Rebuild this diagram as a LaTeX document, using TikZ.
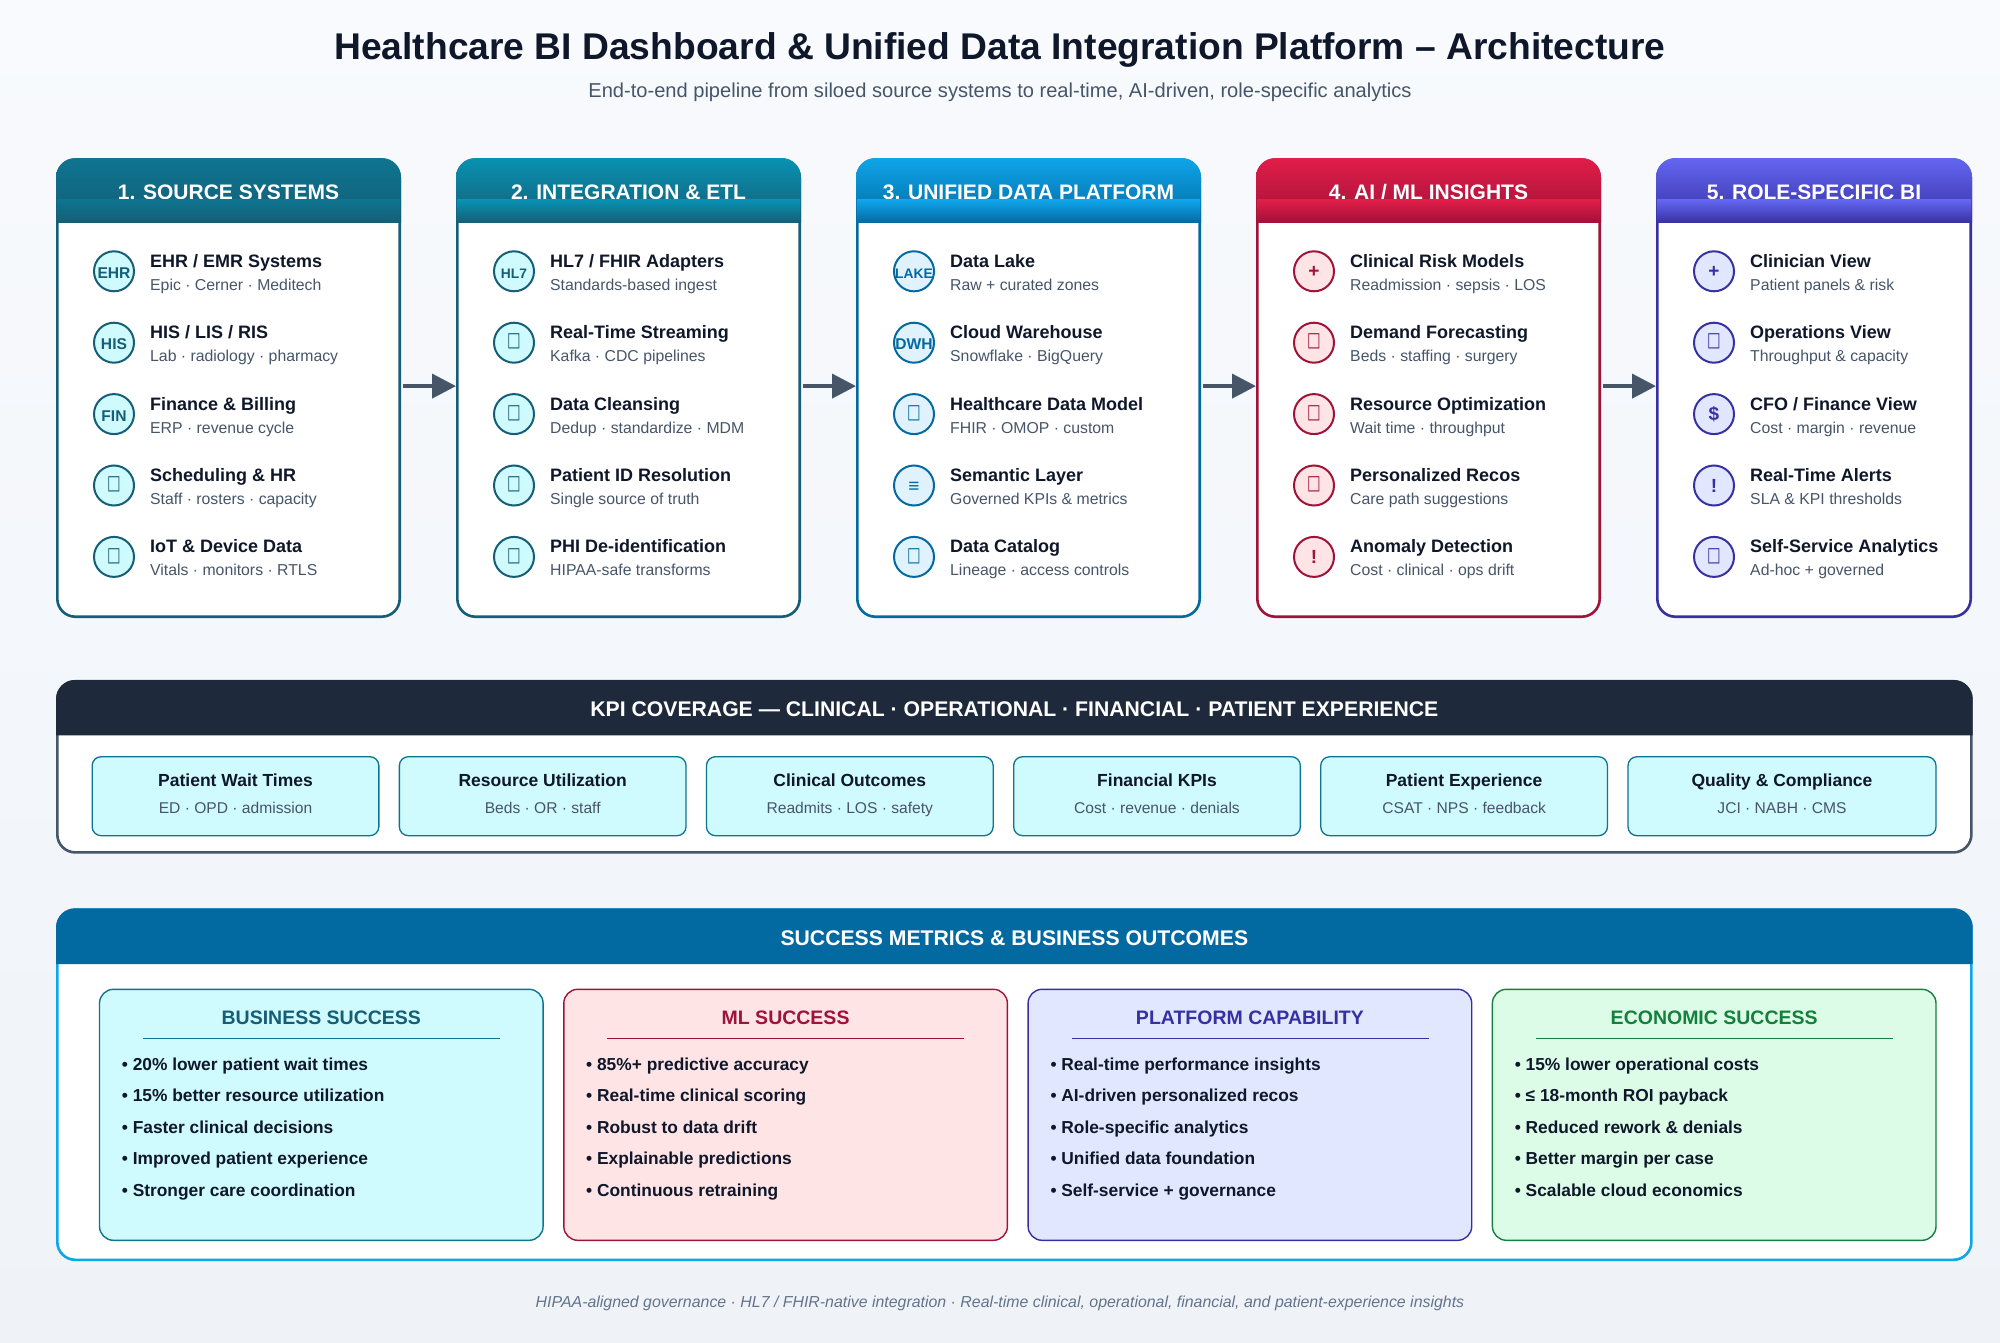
\documentclass[tikz,border=0pt]{standalone}
\usepackage{fontspec}
\setmainfont{Liberation Sans}
\newfontfamily\symfont[FakeStretch=0.72]{DejaVu Sans}
\usepackage{tikz}
\usetikzlibrary{arrows.meta,positioning}

\definecolor{ink}{HTML}{0F172A}
\definecolor{slate}{HTML}{475569}
\definecolor{footgray}{HTML}{64748B}
\definecolor{navy}{HTML}{1E293B}
\definecolor{cyandark}{HTML}{155E75}
\definecolor{cyanmid}{HTML}{0E7490}
\definecolor{cyantop}{HTML}{0891B2}
\definecolor{cyanpale}{HTML}{CFFAFE}
\definecolor{skytop}{HTML}{0EA5E9}
\definecolor{skydark}{HTML}{0369A1}
\definecolor{skypale}{HTML}{E0F2FE}
\definecolor{rosetop}{HTML}{E11D48}
\definecolor{rosedark}{HTML}{9F1239}
\definecolor{rosepale}{HTML}{FFE4E6}
\definecolor{indigotop}{HTML}{6366F1}
\definecolor{indigodark}{HTML}{3730A3}
\definecolor{indigopale}{HTML}{E0E7FF}
\definecolor{greendark}{HTML}{15803D}
\definecolor{greenpale}{HTML}{DCFCE7}
\definecolor{pagetop}{HTML}{F8FAFD}
\definecolor{pagebot}{HTML}{EFF3F8}

\newcommand{\px}[1]{\fontsize{#1}{#1}\selectfont}

\tikzset{
  panelbox/.style={draw=#1,line width=2.6pt,fill=white,rounded corners=18pt,inner sep=0pt},
  headtext/.style={anchor=base,text=white,font=\px{21}\bfseries,inner sep=0pt},
  bandtext/.style={anchor=base,text=white,font=\px{21.2}\bfseries,inner sep=0pt},
  icon/.style 2 args={circle,draw=#1,fill=#2,text=#1,line width=2pt,minimum size=40pt,inner sep=0pt,text height=14pt,text depth=0pt,font=\px{15.6}\bfseries},
  iconsmall/.style={font=\px{13.8}\bfseries},
  iconbig/.style={font=\px{19}\bfseries,text height=13pt},
  icontofu/.style={font=\symfont\px{20},text height=8.2pt},
  itemtitle/.style={anchor=base west,text=ink,font=\px{18}\bfseries,inner sep=0pt},
  itemsub/.style={anchor=base west,text=slate,font=\px{15.8},inner sep=0pt},
  flowarrow/.style={draw=slate,line width=4pt,-{Triangle[length=24pt,width=24pt]},shorten <=2pt},
  kpibox/.style={draw=cyanmid,fill=cyanpale,line width=1.3pt,rounded corners=9pt,minimum height=79pt,inner sep=0pt},
  kpititle/.style={anchor=base,text=ink,font=\px{17.5}\bfseries,inner sep=0pt},
  kpisub/.style={anchor=base,text=slate,font=\px{15.6},inner sep=0pt},
  succbox/.style 2 args={draw=#1,fill=#2,line width=1.4pt,rounded corners=14pt,minimum width=443.6pt,minimum height=251pt,inner sep=0pt},
  succtitle/.style={anchor=base,text=#1,font=\px{19.5}\bfseries,inner sep=0pt},
  succitem/.style={anchor=base west,text=ink,font=\px{17.35}\bfseries,inner sep=0pt},
}

\begin{document}
\begin{tikzpicture}[x=1pt,y=-1pt]
  \useasboundingbox (0,0) rectangle (2000,1343);
  \path[top color=pagetop,bottom color=pagebot] (0,0) rectangle (2000,1343);

  \node[anchor=base,text=ink,font=\px{37.2}\bfseries,inner sep=0pt] (title) at (1000,60) {Healthcare BI Dashboard \& Unified Data Integration Platform – Architecture};
  \node[anchor=base,text=slate,font=\px{20.1},inner sep=0pt] (subtitle) at (1000,97.5) {End-to-end pipeline from siloed source systems to real-time, AI-driven, role-specific analytics};

  % five columns
  \node[panelbox=cyandark,minimum width=342.4pt,minimum height=457.2pt] (p1) at (228.5,388.1) {};
  \node[panelbox=cyandark,minimum width=342.4pt,minimum height=457.2pt] (p2) at (628.5,388.1) {};
  \node[panelbox=skydark,minimum width=342.4pt,minimum height=457.2pt] (p3) at (1028.5,388.1) {};
  \node[panelbox=rosedark,minimum width=342.4pt,minimum height=457.2pt] (p4) at (1428.5,388.1) {};
  \node[panelbox=indigodark,minimum width=313.4pt,minimum height=457.2pt] (p5) at (1814,388.1) {};

  \path[top color=cyanmid,bottom color=cyandark] (56,223) -- (56,177.2) arc[start angle=180,end angle=90,radius=19pt] -- (382,158.2) arc[start angle=90,end angle=0,radius=19pt] -- (401,223) -- cycle;
  \path[top color=cyantop,bottom color=cyandark] (456,223) -- (456,177.2) arc[start angle=180,end angle=90,radius=19pt] -- (782,158.2) arc[start angle=90,end angle=0,radius=19pt] -- (801,223) -- cycle;
  \path[top color=skytop,bottom color=skydark] (856,223) -- (856,177.2) arc[start angle=180,end angle=90,radius=19pt] -- (1182,158.2) arc[start angle=90,end angle=0,radius=19pt] -- (1201,223) -- cycle;
  \path[top color=rosetop,bottom color=rosedark] (1256,223) -- (1256,177.2) arc[start angle=180,end angle=90,radius=19pt] -- (1582,158.2) arc[start angle=90,end angle=0,radius=19pt] -- (1601,223) -- cycle;
  \path[top color=indigotop,bottom color=indigodark] (1656,223) -- (1656,177.2) arc[start angle=180,end angle=90,radius=19pt] -- (1953,158.2) arc[start angle=90,end angle=0,radius=19pt] -- (1972,223) -- cycle;

  \node[headtext] (h1) at (228.5,199.9) {1. SOURCE SYSTEMS};
  \node[headtext] (h2) at (628.5,199.9) {2. INTEGRATION \& ETL};
  \node[headtext] (h3) at (1028.5,199.9) {3. UNIFIED DATA PLATFORM};
  \node[headtext] (h4) at (1428.5,199.9) {4. AI / ML INSIGHTS};
  \node[headtext] (h5) at (1814,199.9) {5. ROLE-SPECIFIC BI};

  \path[top color=cyanmid,bottom color=cyandark] (57,200) rectangle (400,223);
  \path[top color=cyantop,bottom color=cyandark] (457,200) rectangle (800,223);
  \path[top color=skytop,bottom color=skydark] (857,200) rectangle (1200,223);
  \path[top color=rosetop,bottom color=rosedark] (1257,200) rectangle (1600,223);
  \path[top color=indigotop,bottom color=indigodark] (1657,200) rectangle (1971,223);

  % column 1
  \node[icon={cyandark}{cyanpale}] (a1) at (114,271.3) {EHR};
  \node[itemtitle] (a1t) at (150,267.3) {EHR / EMR Systems};
  \node[itemsub] (a1s) at (150,290.3) {Epic · Cerner · Meditech};
  \node[icon={cyandark}{cyanpale}] (a2) at (114,342.7) {HIS};
  \node[itemtitle] (a2t) at (150,338.7) {HIS / LIS / RIS};
  \node[itemsub] (a2s) at (150,361.7) {Lab · radiology · pharmacy};
  \node[icon={cyandark}{cyanpale}] (a3) at (114,414.1) {FIN};
  \node[itemtitle] (a3t) at (150,410.1) {Finance \& Billing};
  \node[itemsub] (a3s) at (150,433.1) {ERP · revenue cycle};
  \node[icon={cyandark}{cyanpale},icontofu] (a4) at (114,485.5) {□};
  \node[itemtitle] (a4t) at (150,481.5) {Scheduling \& HR};
  \node[itemsub] (a4s) at (150,504.5) {Staff · rosters · capacity};
  \node[icon={cyandark}{cyanpale},icontofu] (a5) at (114,556.9) {□};
  \node[itemtitle] (a5t) at (150,552.9) {IoT \& Device Data};
  \node[itemsub] (a5s) at (150,575.9) {Vitals · monitors · RTLS};

  % column 2
  \node[icon={cyandark}{cyanpale},iconsmall] (b1) at (514,271.3) {HL7};
  \node[itemtitle] (b1t) at (550,267.3) {HL7 / FHIR Adapters};
  \node[itemsub] (b1s) at (550,290.3) {Standards-based ingest};
  \node[icon={cyandark}{cyanpale},icontofu] (b2) at (514,342.7) {□};
  \node[itemtitle] (b2t) at (550,338.7) {Real-Time Streaming};
  \node[itemsub] (b2s) at (550,361.7) {Kafka · CDC pipelines};
  \node[icon={cyandark}{cyanpale},icontofu] (b3) at (514,414.1) {□};
  \node[itemtitle] (b3t) at (550,410.1) {Data Cleansing};
  \node[itemsub] (b3s) at (550,433.1) {Dedup · standardize · MDM};
  \node[icon={cyandark}{cyanpale},icontofu] (b4) at (514,485.5) {□};
  \node[itemtitle] (b4t) at (550,481.5) {Patient ID Resolution};
  \node[itemsub] (b4s) at (550,504.5) {Single source of truth};
  \node[icon={cyandark}{cyanpale},icontofu] (b5) at (514,556.9) {□};
  \node[itemtitle] (b5t) at (550,552.9) {PHI De-identification};
  \node[itemsub] (b5s) at (550,575.9) {HIPAA-safe transforms};

  % column 3
  \node[icon={skydark}{skypale},iconsmall] (c1) at (914,271.3) {LAKE};
  \node[itemtitle] (c1t) at (950,267.3) {Data Lake};
  \node[itemsub] (c1s) at (950,290.3) {Raw + curated zones};
  \node[icon={skydark}{skypale}] (c2) at (914,342.7) {DWH};
  \node[itemtitle] (c2t) at (950,338.7) {Cloud Warehouse};
  \node[itemsub] (c2s) at (950,361.7) {Snowflake · BigQuery};
  \node[icon={skydark}{skypale},icontofu] (c3) at (914,414.1) {□};
  \node[itemtitle] (c3t) at (950,410.1) {Healthcare Data Model};
  \node[itemsub] (c3s) at (950,433.1) {FHIR · OMOP · custom};
  \node[icon={skydark}{skypale},iconbig] (c4) at (914,485.5) {≡};
  \node[itemtitle] (c4t) at (950,481.5) {Semantic Layer};
  \node[itemsub] (c4s) at (950,504.5) {Governed KPIs \& metrics};
  \node[icon={skydark}{skypale},icontofu] (c5) at (914,556.9) {□};
  \node[itemtitle] (c5t) at (950,552.9) {Data Catalog};
  \node[itemsub] (c5s) at (950,575.9) {Lineage · access controls};

  % column 4
  \node[icon={rosedark}{rosepale},iconbig] (d1) at (1314,271.3) {+};
  \node[itemtitle] (d1t) at (1350,267.3) {Clinical Risk Models};
  \node[itemsub] (d1s) at (1350,290.3) {Readmission · sepsis · LOS};
  \node[icon={rosedark}{rosepale},icontofu] (d2) at (1314,342.7) {□};
  \node[itemtitle] (d2t) at (1350,338.7) {Demand Forecasting};
  \node[itemsub] (d2s) at (1350,361.7) {Beds · staffing · surgery};
  \node[icon={rosedark}{rosepale},icontofu] (d3) at (1314,414.1) {□};
  \node[itemtitle] (d3t) at (1350,410.1) {Resource Optimization};
  \node[itemsub] (d3s) at (1350,433.1) {Wait time · throughput};
  \node[icon={rosedark}{rosepale},icontofu] (d4) at (1314,485.5) {□};
  \node[itemtitle] (d4t) at (1350,481.5) {Personalized Recos};
  \node[itemsub] (d4s) at (1350,504.5) {Care path suggestions};
  \node[icon={rosedark}{rosepale},iconbig] (d5) at (1314,556.9) {!};
  \node[itemtitle] (d5t) at (1350,552.9) {Anomaly Detection};
  \node[itemsub] (d5s) at (1350,575.9) {Cost · clinical · ops drift};

  % column 5
  \node[icon={indigodark}{indigopale},iconbig] (e1) at (1714,271.3) {+};
  \node[itemtitle] (e1t) at (1750,267.3) {Clinician View};
  \node[itemsub] (e1s) at (1750,290.3) {Patient panels \& risk};
  \node[icon={indigodark}{indigopale},icontofu] (e2) at (1714,342.7) {□};
  \node[itemtitle] (e2t) at (1750,338.7) {Operations View};
  \node[itemsub] (e2s) at (1750,361.7) {Throughput \& capacity};
  \node[icon={indigodark}{indigopale},iconbig] (e3) at (1714,414.1) {\$};
  \node[itemtitle] (e3t) at (1750,410.1) {CFO / Finance View};
  \node[itemsub] (e3s) at (1750,433.1) {Cost · margin · revenue};
  \node[icon={indigodark}{indigopale},iconbig] (e4) at (1714,485.5) {!};
  \node[itemtitle] (e4t) at (1750,481.5) {Real-Time Alerts};
  \node[itemsub] (e4s) at (1750,504.5) {SLA \& KPI thresholds};
  \node[icon={indigodark}{indigopale},icontofu] (e5) at (1714,556.9) {□};
  \node[itemtitle] (e5t) at (1750,552.9) {Self-Service Analytics};
  \node[itemsub] (e5s) at (1750,575.9) {Ad-hoc + governed};

  \draw[flowarrow] ([yshift=2pt]p1.east) -- ([yshift=2pt]p2.west);
  \draw[flowarrow] ([yshift=2pt]p2.east) -- ([yshift=2pt]p3.west);
  \draw[flowarrow] ([yshift=2pt]p3.east) -- ([yshift=2pt]p4.west);
  \draw[flowarrow] ([yshift=2pt]p4.east) -- ([yshift=2pt]p5.west);

  % KPI band
  \node[panelbox=slate,minimum width=1914.1pt,minimum height=171.2pt] (kpi) at (1014.35,766.8) {};
  \path[fill=navy] (56,735.3) -- (56,699) arc[start angle=180,end angle=90,radius=19pt] -- (1953.7,680) arc[start angle=90,end angle=0,radius=19pt] -- (1972.7,735.3) -- cycle;
  \node[bandtext] (kpihead) at (1014.35,716.7) {KPI COVERAGE — CLINICAL · OPERATIONAL · FINANCIAL · PATIENT EXPERIENCE};

  \node[kpibox,minimum width=286.7pt] (k1) at (235.5,796.2) {};
  \node[kpibox,minimum width=286.7pt] (k2) at (542.7,796.2) {};
  \node[kpibox,minimum width=286.7pt] (k3) at (849.8,796.2) {};
  \node[kpibox,minimum width=286.7pt] (k4) at (1157,796.2) {};
  \node[kpibox,minimum width=286.7pt] (k5) at (1464.1,796.2) {};
  \node[kpibox,minimum width=308pt] (k6) at (1782,796.2) {};

  \node[kpititle] (k1t) at (235.5,786) {Patient Wait Times};
  \node[kpisub] (k1s) at (235.5,813) {ED · OPD · admission};
  \node[kpititle] (k2t) at (542.7,786) {Resource Utilization};
  \node[kpisub] (k2s) at (542.7,813) {Beds · OR · staff};
  \node[kpititle] (k3t) at (849.8,786) {Clinical Outcomes};
  \node[kpisub] (k3s) at (849.8,813) {Readmits · LOS · safety};
  \node[kpititle] (k4t) at (1157,786) {Financial KPIs};
  \node[kpisub] (k4s) at (1157,813) {Cost · revenue · denials};
  \node[kpititle] (k5t) at (1464.1,786) {Patient Experience};
  \node[kpisub] (k5s) at (1464.1,813) {CSAT · NPS · feedback};
  \node[kpititle] (k6t) at (1782,786) {Quality \& Compliance};
  \node[kpisub] (k6s) at (1782,813) {JCI · NABH · CMS};

  % success band
  \node[panelbox=skytop,minimum width=1914.1pt,minimum height=350.2pt] (succ) at (1014.35,1084.7) {};
  \path[fill=skydark] (56,964) -- (56,927.3) arc[start angle=180,end angle=90,radius=19pt] -- (1953.7,908.3) arc[start angle=90,end angle=0,radius=19pt] -- (1972.7,964) -- cycle;
  \node[bandtext] (succhead) at (1014.35,945) {SUCCESS METRICS \& BUSINESS OUTCOMES};

  \node[succbox={cyanmid}{cyanpale}] (s1) at (321.3,1114.8) {};
  \node[succbox={rosedark}{rosepale}] (s2) at (785.6,1114.8) {};
  \node[succbox={indigodark}{indigopale}] (s3) at (1249.9,1114.8) {};
  \node[succbox={greendark}{greenpale}] (s4) at (1714.2,1114.8) {};

  \node[succtitle=cyandark] (s1t) at (321.3,1024) {BUSINESS SUCCESS};
  \node[succtitle=rosedark] (s2t) at (785.6,1024) {ML SUCCESS};
  \node[succtitle=indigodark] (s3t) at (1249.9,1024) {PLATFORM CAPABILITY};
  \node[succtitle=greendark] (s4t) at (1714.2,1024) {ECONOMIC SUCCESS};

  \draw[cyanmid,line width=1.6pt] (143,1038.3) -- (500,1038.3);
  \draw[rosedark,line width=1.6pt] (607.3,1038.3) -- (964.3,1038.3);
  \draw[indigodark,line width=1.6pt] (1071.6,1038.3) -- (1428.6,1038.3);
  \draw[greendark,line width=1.6pt] (1535.9,1038.3) -- (1892.9,1038.3);

  \node[succitem] (s1a) at (121.7,1070) {• 20\% lower patient wait times};
  \node[succitem] (s1b) at (121.7,1101.6) {• 15\% better resource utilization};
  \node[succitem] (s1c) at (121.7,1133.1) {• Faster clinical decisions};
  \node[succitem] (s1d) at (121.7,1164.7) {• Improved patient experience};
  \node[succitem] (s1e) at (121.7,1196.3) {• Stronger care coordination};

  \node[succitem] (s2a) at (586,1070) {• 85\%+ predictive accuracy};
  \node[succitem] (s2b) at (586,1101.6) {• Real-time clinical scoring};
  \node[succitem] (s2c) at (586,1133.1) {• Robust to data drift};
  \node[succitem] (s2d) at (586,1164.7) {• Explainable predictions};
  \node[succitem] (s2e) at (586,1196.3) {• Continuous retraining};

  \node[succitem] (s3a) at (1050.3,1070) {• Real-time performance insights};
  \node[succitem] (s3b) at (1050.3,1101.6) {• AI-driven personalized recos};
  \node[succitem] (s3c) at (1050.3,1133.1) {• Role-specific analytics};
  \node[succitem] (s3d) at (1050.3,1164.7) {• Unified data foundation};
  \node[succitem] (s3e) at (1050.3,1196.3) {• Self-service + governance};

  \node[succitem] (s4a) at (1514.6,1070) {• 15\% lower operational costs};
  \node[succitem] (s4b) at (1514.6,1101.6) {• ≤ 18-month ROI payback};
  \node[succitem] (s4c) at (1514.6,1133.1) {• Reduced rework \& denials};
  \node[succitem] (s4d) at (1514.6,1164.7) {• Better margin per case};
  \node[succitem] (s4e) at (1514.6,1196.3) {• Scalable cloud economics};

  \node[anchor=base,text=footgray,font=\px{15.9}\itshape,inner sep=0pt] (foot) at (1000,1307) {HIPAA-aligned governance · HL7 / FHIR-native integration · Real-time clinical, operational, financial, and patient-experience insights};
\end{tikzpicture}
\end{document}
